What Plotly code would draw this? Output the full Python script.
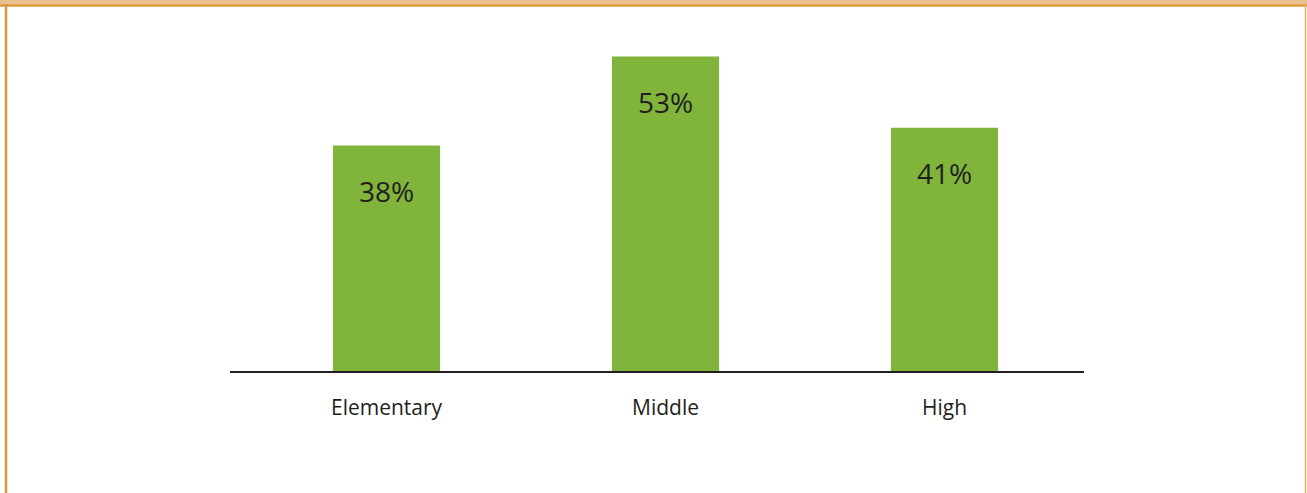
import plotly.graph_objects as go

# School levels and share of respondents (%)
levels = ["Elementary", "Middle", "High"]
shares = [38, 53, 41]
share_labels = ["38%", "53%", "41%"]

BAR_GREEN = "#80b43a"
INK = "#231f20"
FRAME = "#d9993a"
BAND = "#eac18c"

W, H = 1307, 493
M_L, M_R, M_T, M_B = 230, 223, 15, 122

x_pos = list(range(len(levels)))

fig = go.Figure()
fig.add_trace(go.Bar(
    x=x_pos,
    y=shares,
    width=0.384,
    marker=dict(color=BAR_GREEN, line=dict(width=0)),
    hoverinfo="skip",
))

# Value labels sitting inside the top of each bar
for xi, v, lab in zip(x_pos, shares, share_labels):
    fig.add_annotation(
        x=xi, y=v, text=lab, showarrow=False,
        yanchor="middle", yshift=-45,
        font=dict(family="Open Sans, sans-serif", size=28, color=INK),
    )

# Helpers to place the page frame in pixel terms using paper coordinates
plot_w = W - M_L - M_R
plot_h = H - M_T - M_B


def px_x(px):
    return (px - M_L) / plot_w


def px_y(py):
    return (H - M_B - py) / plot_h


# Orange band along the top, a darker rule under it and the side rules
fig.add_shape(type="rect", xref="paper", yref="paper",
              x0=px_x(-5), x1=px_x(W + 5), y0=px_y(4.5), y1=px_y(-5),
              line=dict(width=0), fillcolor=BAND, layer="below")
fig.add_shape(type="line", xref="paper", yref="paper",
              x0=px_x(-5), x1=px_x(W + 5), y0=px_y(5.5), y1=px_y(5.5),
              line=dict(color=FRAME, width=2.5))
fig.add_shape(type="line", xref="paper", yref="paper",
              x0=px_x(6), x1=px_x(6), y0=px_y(4), y1=px_y(H + 10),
              line=dict(color=FRAME, width=2.5))
fig.add_shape(type="line", xref="paper", yref="paper",
              x0=px_x(1305.5), x1=px_x(1305.5), y0=px_y(4), y1=px_y(H + 10),
              line=dict(color="#e8b15e", width=1.5))

fig.update_layout(
    width=W, height=H,
    margin=dict(l=M_L, r=M_R, t=M_T, b=M_B),
    paper_bgcolor="white", plot_bgcolor="white",
    showlegend=False,
    xaxis=dict(
        range=[-0.561, 2.5],
        tickmode="array", tickvals=x_pos, ticktext=levels,
        showgrid=False, zeroline=False,
        showline=True, linecolor=INK, linewidth=2,
        ticks="", ticklabelstandoff=17,
        tickfont=dict(family="Open Sans, sans-serif", size=21, color=INK),
    ),
    yaxis=dict(range=[0, 60], visible=False, showgrid=False, zeroline=False),
)

fig.write_html("out.html")
